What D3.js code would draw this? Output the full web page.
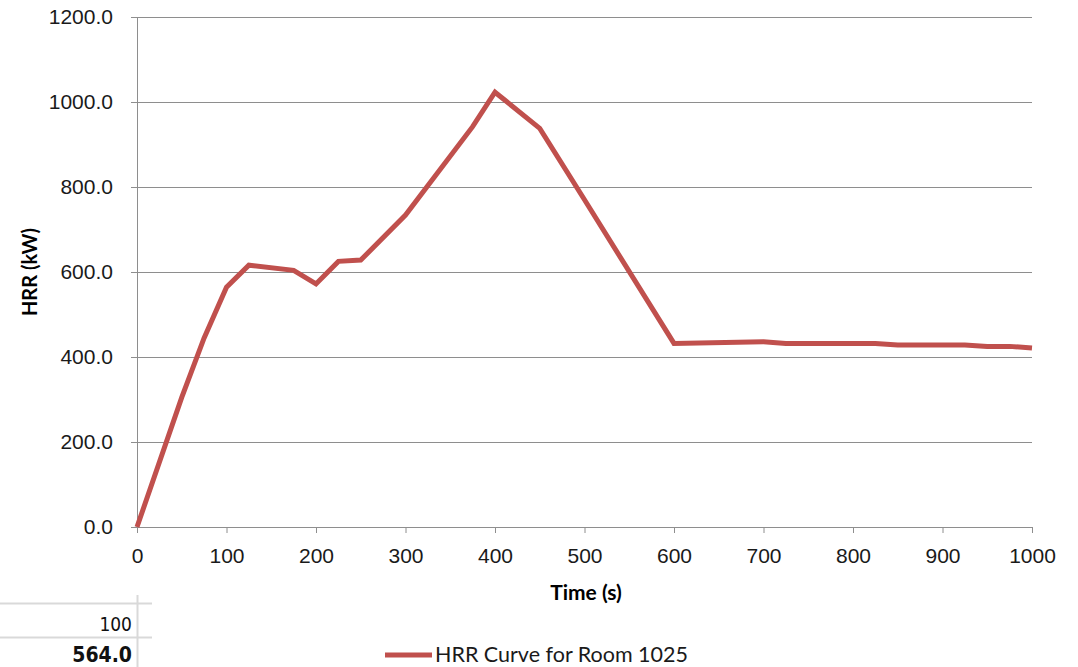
<!DOCTYPE html>
<html>
<head>
<meta charset="utf-8">
<script src="https://cdn.jsdelivr.net/npm/d3@7"></script>
<style>
  body { margin: 0; background: #fff; }
  svg { display: block; font-family: Lato, "Open Sans", sans-serif; }
</style>
</head>
<body>
<svg id="chart"></svg>
<script>
// HRR curve
const times = [0, 50, 75, 100, 125, 175, 200, 225, 250, 300, 375, 400, 450, 500, 600, 700, 725, 825, 850, 925, 950, 975, 1000];
const hrr   = [0, 305, 445, 564, 616, 604, 572, 625, 628, 734, 942, 1023, 938, 770, 432, 436, 432, 432, 428, 428, 425, 425, 421];
const yTicks = [0, 200, 400, 600, 800, 1000, 1200];
const xTicks = [0, 100, 200, 300, 400, 500, 600, 700, 800, 900, 1000];
const seriesName = "HRR Curve for Room 1025";
// stray spreadsheet cells under the chart
const cellRows = ["100", "564.0"];

const width = 1078, height = 667;
const margin = { top: 17, right: 46, bottom: 140, left: 137 };
const innerW = width - margin.left - margin.right;
const innerH = height - margin.top - margin.bottom;

const svg = d3.select("#chart").attr("width", width).attr("height", height);

const xScale = d3.scaleLinear().domain([0, 1000]).range([0, innerW]);
const yScale = d3.scaleLinear().domain([0, 1200]).range([innerH, 0]);

const chart = svg.append("g")
    .attr("transform", `translate(${margin.left},${margin.top})`);

// horizontal gridlines
chart.append("g")
  .selectAll("line")
  .data(yTicks.filter(d => d > 0))
  .join("line")
    .attr("x1", 0).attr("x2", innerW)
    .attr("y1", d => yScale(d) + 0.5).attr("y2", d => yScale(d) + 0.5)
    .attr("stroke", "#8e8e8e").attr("stroke-width", 1);

// y axis
const yAxis = d3.axisLeft(yScale).tickValues(yTicks).tickFormat(d3.format(".1f")).tickSize(6).tickPadding(18);
const yAxisG = chart.append("g").call(yAxis);

// x axis
const xAxis = d3.axisBottom(xScale).tickValues(xTicks).tickFormat(d3.format("d")).tickSize(6).tickPadding(15);
const xAxisG = chart.append("g").attr("transform", `translate(0,${innerH})`).call(xAxis);

[yAxisG, xAxisG].forEach(g => {
  g.select(".domain").attr("stroke", "#8e8e8e");
  g.selectAll(".tick line").attr("stroke", "#8e8e8e");
  g.selectAll(".tick text").attr("fill", "#1a1a1a").attr("font-size", 21);
});

// the curve
const line = d3.line()
    .x((d, i) => xScale(times[i]))
    .y(d => yScale(d));

chart.append("path")
    .datum(hrr)
    .attr("d", line)
    .attr("fill", "none")
    .attr("stroke", "#c0504d")
    .attr("stroke-width", 5)
    .attr("stroke-linejoin", "miter");

// axis titles
svg.append("text")
    .attr("transform", `translate(37,${margin.top + innerH / 2}) rotate(-90)`)
    .attr("text-anchor", "middle")
    .attr("font-weight", "bold")
    .attr("font-size", 20)
    .attr("fill", "#000")
    .text("HRR (kW)");

svg.append("text")
    .attr("x", 586)
    .attr("y", 600)
    .attr("text-anchor", "middle")
    .attr("font-weight", "bold")
    .attr("font-size", 21)
    .attr("fill", "#000")
    .text("Time (s)");

// legend
const legend = svg.append("g").attr("transform", "translate(385,655)");
legend.append("line")
    .attr("x1", 0).attr("x2", 47).attr("y1", 0).attr("y2", 0)
    .attr("stroke", "#c0504d").attr("stroke-width", 5);
legend.append("text")
    .attr("x", 50).attr("y", 7)
    .attr("font-size", 21.5)
    .attr("fill", "#1a1a1a")
    .text(seriesName);

// spreadsheet fragment, bottom left
const cells = svg.append("g");
cells.append("line").attr("x1", 0).attr("x2", 152).attr("y1", 603.5).attr("y2", 603.5)
    .attr("stroke", "#d9d9d9").attr("stroke-width", 2);
cells.append("line").attr("x1", 0).attr("x2", 152).attr("y1", 637.5).attr("y2", 637.5)
    .attr("stroke", "#d9d9d9").attr("stroke-width", 2);
cells.append("line").attr("x1", 137.5).attr("x2", 137.5).attr("y1", 595).attr("y2", 667)
    .attr("stroke", "#d9d9d9").attr("stroke-width", 2);
cells.selectAll("text.cell")
  .data(cellRows)
  .join("text")
    .attr("class", "cell")
    .attr("x", 132)
    .attr("y", (d, i) => i === 0 ? 631 : 662)
    .attr("text-anchor", "end")
    .attr("font-family", "'DejaVu Sans Condensed', 'Liberation Sans Narrow', sans-serif")
    .attr("font-size", (d, i) => i === 0 ? 19 : 21)
    .attr("font-weight", (d, i) => i === 0 ? "normal" : "bold")
    .attr("fill", "#111")
    .text(d => d);
</script>
</body>
</html>
